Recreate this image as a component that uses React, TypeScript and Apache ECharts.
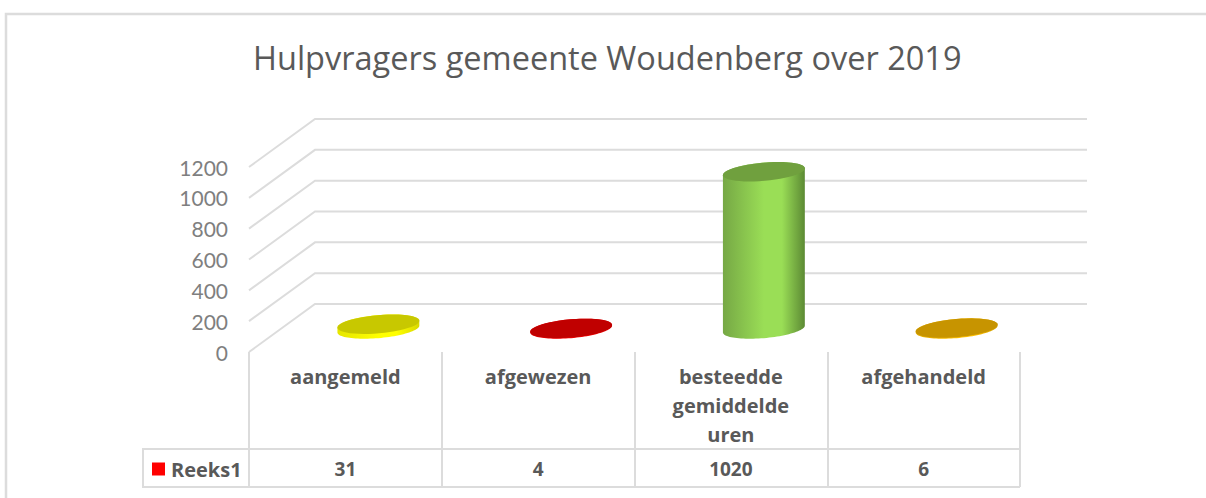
import React, { useEffect, useRef } from "react";
import * as echarts from "echarts";

const titleText = "Hulpvragers gemeente Woudenberg over 2019";
const seriesName = "Reeks1";
const categories = ["aangemeld", "afgewezen", "besteedde\ngemiddelde\nuren", "afgehandeld"];
const values = [31, 4, 1020, 6];
const ticks = [0, 200, 400, 600, 800, 1000, 1200];

const topColors = ["#c8c800", "#c00000", "#70a03e", "#c79400"];
const sideStops = [
  ["#e6e600", "#ffff00", "#d8d800"],
  ["#e00000", "#ff0000", "#d00000"],
  ["#76a845", "#9ade56", "#5c8a34"],
  ["#e0aa00", "#ffc000", "#d0a000"],
];
const LINE = "#dcdcdc";
const DEPTH_X = 66;
const DEPTH_Y = -48;
const FLOOR_SHIFT = 1;
const RX = 41.1;
const RY = 9.1;
const TILT = (5 * Math.PI) / 180;

function ellipsePoint(cx: number, cy: number, t: number) {
  const u = RX * Math.cos(t);
  const v = RY * Math.sin(t);
  return [cx + u * Math.cos(TILT) + v * Math.sin(TILT), cy - u * Math.sin(TILT) + v * Math.cos(TILT)];
}

function arc(cx: number, cy: number, from: number, to: number) {
  const pts: number[][] = [];
  const n = 48;
  for (let i = 0; i <= n; i++) pts.push(ellipsePoint(cx, cy, from + ((to - from) * i) / n));
  return pts;
}

export default function App() {
  const ref = useRef<HTMLDivElement>(null);
  useEffect(() => {
    const chart = echarts.init(ref.current!, undefined, { renderer: "svg" });
    const font = "Open Sans";
    chart.setOption({
      animation: false,
      backgroundColor: "#ffffff",
      title: {
        text: titleText,
        left: 253,
        top: 41,
        padding: 0,
        textStyle: { fontFamily: font, fontSize: 32.5, fontWeight: "normal", color: "#595959" },
      },
      legend: {
        left: 152,
        top: 459,
        padding: 0,
        data: [{ name: seriesName, icon: "rect", itemStyle: { color: "#ff0000" } }],
        itemWidth: 13,
        itemHeight: 13,
        itemGap: 0,
        textStyle: { fontFamily: font, fontSize: 20, fontWeight: "bold", color: "#595959", padding: [0, 0, 0, 1] },
      },
      grid: { left: 249, top: 167, width: 771, height: 185, containLabel: false },
      xAxis: [
        {
          type: "category",
          data: categories,
          axisLine: { show: false },
          axisTick: { show: true, length: 135, lineStyle: { color: LINE, width: 2 } },
          axisLabel: {
            interval: 0,
            margin: 10,
            fontFamily: font,
            fontSize: 20,
            fontWeight: "bold",
            color: "#595959",
            lineHeight: 29,
          },
        },
        {
          type: "category",
          position: "bottom",
          offset: 107,
          data: values.map(String),
          axisLine: { show: false },
          axisTick: { show: false },
          axisLabel: {
            interval: 0,
            margin: 0,
            fontFamily: font,
            fontSize: 19,
            fontWeight: "bold",
            color: "#595959",
          },
        },
      ],
      yAxis: {
        type: "value",
        min: 0,
        max: 1200,
        interval: 200,
        axisLine: { show: false },
        axisTick: { show: false },
        splitLine: { show: false },
        axisLabel: {
          margin: 21,
          fontFamily: "Lato",
          fontSize: 21,
          color: "#7f7f7f",
          formatter: (v: number) => String(v),
        },
      },
      graphic: [
        {
          type: "polyline",
          silent: true,
          shape: { points: [[6, 498], [6, 14], [1206, 14]] },
          style: { stroke: LINE, lineWidth: 2.5, fill: "none" },
        },
        {
          type: "polyline",
          silent: true,
          shape: { points: [[249, 449], [143, 449], [143, 487], [1020, 487]] },
          style: { stroke: LINE, lineWidth: 2, fill: "none" },
        },
        {
          type: "line",
          silent: true,
          shape: { x1: 249, y1: 449, x2: 1020, y2: 449 },
          style: { stroke: LINE, lineWidth: 2 },
        },
      ],
      series: [
        {
          type: "custom",
          name: "walls",
          silent: true,
          z: 1,
          clip: false,
          encode: { x: 0, y: 1 },
          data: ticks.map((t) => [0, t]),
          renderItem: (params: any, api: any) => {
            const cs = params.coordSys;
            const y = api.coord([0, api.value(1)])[1];
            return {
              type: "polyline",
              shape: {
                points: [
                  [cs.x, y],
                  [cs.x + DEPTH_X, y + DEPTH_Y],
                  [cs.x + cs.width + DEPTH_X + 1, y + DEPTH_Y],
                ],
              },
              style: { stroke: LINE, lineWidth: 2, fill: "none" },
            };
          },
        },
        {
          type: "custom",
          name: seriesName,
          silent: true,
          z: 2,
          clip: false,
          encode: { x: 0, y: 1 },
          data: values.map((v, i) => [i, v]),
          renderItem: (_params: any, api: any) => {
            const i = api.value(0);
            const base = api.coord([i, 0]);
            const top = api.coord([i, api.value(1)]);
            const cx = base[0] + DEPTH_X / 2;
            const by = base[1] + DEPTH_Y / 2 + FLOOR_SHIFT;
            const ty = top[1] + DEPTH_Y / 2 + FLOOR_SHIFT;
            const t0 = Math.atan((RY * Math.sin(TILT)) / (RX * Math.cos(TILT)));
            const silhouette = [
              ...arc(cx, by, t0, t0 + Math.PI),
              ...arc(cx, ty, t0 + Math.PI, t0 + 2 * Math.PI),
            ];
            const stops = sideStops[i];
            return {
              type: "group",
              children: [
                {
                  type: "polygon",
                  shape: { points: silhouette },
                  style: {
                    fill: new echarts.graphic.LinearGradient(0, 0, 1, 0, [
                      { offset: 0, color: stops[0] },
                      { offset: 0.5, color: stops[1] },
                      { offset: 0.72, color: stops[1] },
                      { offset: 1, color: stops[2] },
                    ]),
                  },
                },
                {
                  type: "polygon",
                  shape: { points: arc(cx, ty, 0, 2 * Math.PI) },
                  style: { fill: topColors[i] },
                },
              ],
            };
          },
        },
      ],
    });
    return () => chart.dispose();
  }, []);
  return <div ref={ref} style={{ position: "absolute", left: 0, top: 0, width: 1206, height: 498 }} />;
}
